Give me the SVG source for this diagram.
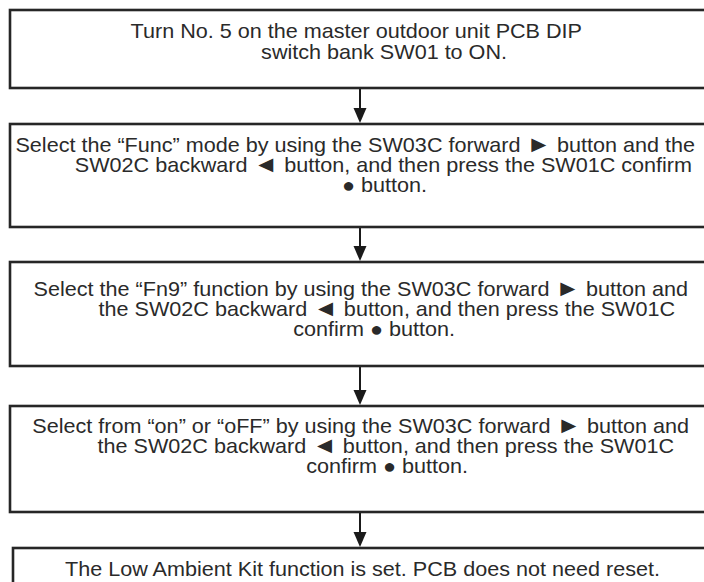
<svg xmlns="http://www.w3.org/2000/svg" width="704" height="582" viewBox="0 0 704 582">
<style>
.box{fill:#fff;stroke:#262626;stroke-width:2.6}
.t{font-family:"Liberation Sans",Arial,sans-serif;font-size:20px;fill:#2a2a2a;text-anchor:end}
.g{font-size:23px}
.c{stroke:#1a1a1a;stroke-width:2}
.h{fill:#1a1a1a}
</style>
<rect width="704" height="582" fill="#fff"/>
<g id="connectors">
<line class="c" x1="360" y1="89" x2="360" y2="108"/><path class="h" d="M353.5,108 L366.5,108 L360,123 Z"/>
<line class="c" x1="360" y1="228" x2="360" y2="246"/><path class="h" d="M353.5,246 L366.5,246 L360,261 Z"/>
<line class="c" x1="360" y1="367" x2="360" y2="390"/><path class="h" d="M353.5,390 L366.5,390 L360,405 Z"/>
<line class="c" x1="360" y1="513" x2="360" y2="532"/><path class="h" d="M353.5,532 L366.5,532 L360,547 Z"/>
</g>
<g id="step1">
<rect class="box" x="10" y="10" width="720" height="78"/>
<text class="t" transform="translate(582 38) scale(1.08 1)">Turn No. 5 on the master outdoor unit PCB DIP</text>
<text class="t" transform="translate(507 59) scale(1.08 1)">switch bank SW01 to ON.</text>
</g>
<g id="step2">
<rect class="box" x="10" y="124" width="720" height="103"/>
<text class="t" transform="translate(695 152) scale(1.08 1)">Select the “Func” mode by using the SW03C forward <tspan class="g">►</tspan> button and the</text>
<text class="t" transform="translate(692 172) scale(1.08 1)">SW02C backward <tspan class="g">◄</tspan> button, and then press the SW01C confirm</text>
<text class="t" transform="translate(427 192) scale(1.08 1)">● button.</text>
</g>
<g id="step3">
<rect class="box" x="10" y="262" width="720" height="104"/>
<text class="t" transform="translate(688 296) scale(1.08 1)">Select the “Fn9” function by using the SW03C forward <tspan class="g">►</tspan> button and</text>
<text class="t" transform="translate(675 316) scale(1.08 1)">the SW02C backward <tspan class="g">◄</tspan> button, and then press the SW01C</text>
<text class="t" transform="translate(455 336) scale(1.08 1)">confirm ● button.</text>
</g>
<g id="step4">
<rect class="box" x="10" y="406" width="720" height="106"/>
<text class="t" transform="translate(689 433) scale(1.08 1)">Select from “on” or “oFF” by using the SW03C forward <tspan class="g">►</tspan> button and</text>
<text class="t" transform="translate(674 453) scale(1.08 1)">the SW02C backward <tspan class="g">◄</tspan> button, and then press the SW01C</text>
<text class="t" transform="translate(468 473) scale(1.08 1)">confirm ● button.</text>
</g>
<g id="step5">
<rect class="box" x="13" y="548" width="720" height="60"/>
<text class="t" transform="translate(660 576) scale(1.08 1)">The Low Ambient Kit function is set. PCB does not need reset.</text>
</g>
</svg>
